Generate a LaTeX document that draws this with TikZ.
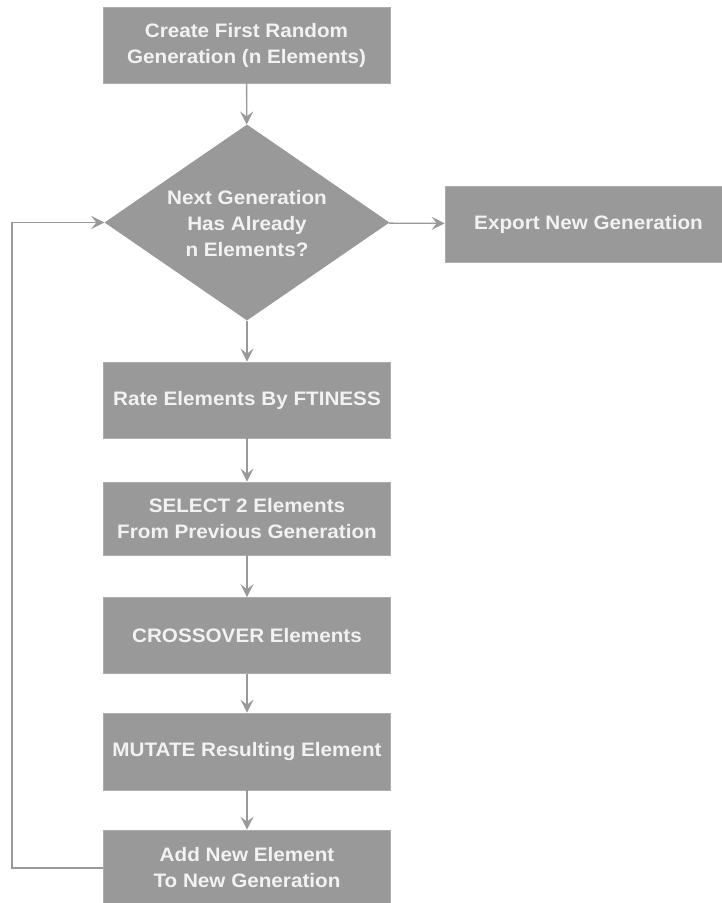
\documentclass[tikz,border=0pt]{standalone}
\usepackage{fontspec}
\setmainfont{Liberation Sans}
\newfontfamily\labelfont[FakeStretch=1.06]{Liberation Sans}
\usetikzlibrary{shapes.geometric,arrows.meta}
\definecolor{boxgray}{HTML}{999999}
\definecolor{labelwhite}{HTML}{F2F2F2}
\tikzset{
  labeltext/.style={text=labelwhite, align=center,
    font=\labelfont\fontsize{19.5}{26}\selectfont\bfseries},
  stepbox/.style={rectangle, fill=boxgray, draw=boxgray!80!white, line width=0.6pt,
    minimum width=287pt, minimum height=76pt, inner sep=0pt, labeltext},
  decision/.style={diamond, fill=boxgray, inner sep=0pt,
    minimum width=285pt, minimum height=196pt},
  flow/.style={draw=boxgray, line width=1.3pt,
    -{Stealth[length=13pt,width=13pt,inset=5pt]}},
}
\begin{document}
\begin{tikzpicture}[x=1pt,y=-1pt]
  \useasboundingbox (0,0) rectangle (721,903);
  \fill[white] (0,0) rectangle (721,903);

  \node[stepbox] (create) at (246.5,45) {Create First Random\\Generation (n Elements)};
  \node[decision, label={[labeltext, yshift=-1.5pt]center:Next Generation\\Has Already\\n Elements?}]
    (check) at (247,222.5) {};
  \node[stepbox] (export) at (588.5,224) {Export New Generation};
  \node[stepbox] (rate) at (247,400) {Rate Elements By FTINESS};
  \node[stepbox, minimum height=73pt] (select) at (247,518.5) {SELECT 2 Elements\\From Previous Generation};
  \node[stepbox] (cross) at (247,635.5) {CROSSOVER Elements};
  \node[stepbox, minimum height=77pt] (mutate) at (247,751.5) {MUTATE Resulting Element};
  \node[stepbox] (add) at (247,868) {Add New Element\\To New Generation};

  \coordinate (loopbottom) at (12,868);
  \coordinate (looptop) at (12,222.5);

  \draw[flow] (create) -- (check);
  \draw[flow] (check) -- (export);
  \draw[flow] (check) -- (rate);
  \draw[flow] (rate) -- (select);
  \draw[flow] (select) -- (cross);
  \draw[flow] (cross) -- (mutate);
  \draw[flow] (mutate) -- (add);
  \draw[flow] (add.west) -- (loopbottom) -- (looptop) -- (check.west);
\end{tikzpicture}
\end{document}
